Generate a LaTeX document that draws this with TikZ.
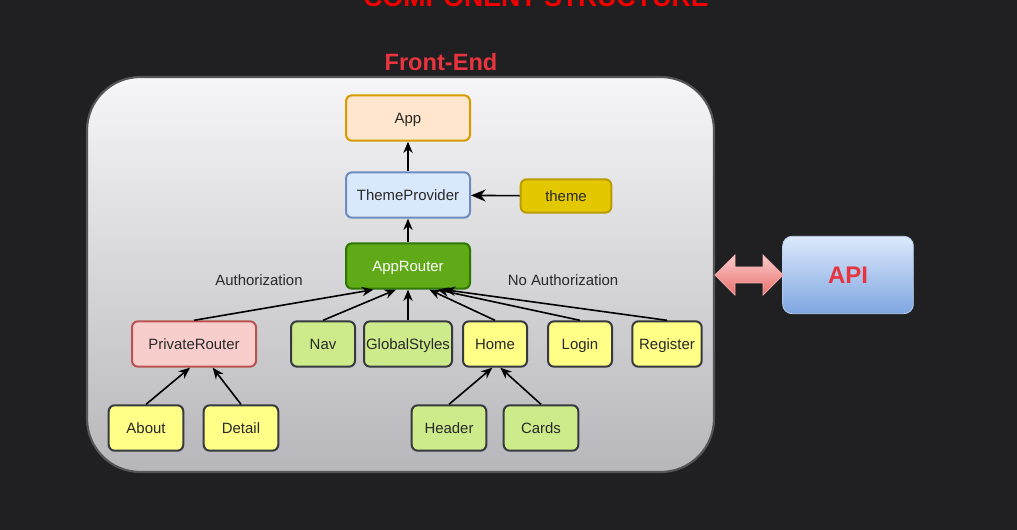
\documentclass[tikz,border=0pt]{standalone}
\usepackage{fontspec}
\setmainfont{Liberation Sans}
\usetikzlibrary{arrows.meta}

\definecolor{fondo}{RGB}{32,32,34}
\definecolor{titulo}{RGB}{240,0,0}
\definecolor{rojo}{RGB}{232,52,62}
\definecolor{texto}{RGB}{40,40,40}
\definecolor{borde}{RGB}{54,57,61}

\tikzset{
  box/.style={rectangle,rounded corners=4.5pt,draw=borde,line width=1.5pt,
    minimum height=34pt,text=texto,font=\fontsize{11.2}{13}\selectfont,inner sep=1pt,
    text height=10pt,text depth=1.4pt},
  appbox/.style={box,fill={rgb,255:red,255;green,230;blue,204},draw={rgb,255:red,215;green,155;blue,0},minimum width=93pt},
  providerbox/.style={box,fill={rgb,255:red,218;green,232;blue,252},draw={rgb,255:red,108;green,142;blue,191},minimum width=93pt},
  themebox/.style={box,fill={rgb,255:red,227;green,200;blue,0},draw={rgb,255:red,184;green,156;blue,0},minimum width=68pt,minimum height=25pt},
  routerbox/.style={box,fill={rgb,255:red,96;green,169;blue,23},draw={rgb,255:red,45;green,118;blue,0},minimum width=93pt,text=white},
  privbox/.style={box,fill={rgb,255:red,248;green,206;blue,204},draw={rgb,255:red,184;green,84;blue,80},minimum width=93pt},
  leafgreen/.style={box,fill={rgb,255:red,205;green,235;blue,139}},
  leafyellow/.style={box,fill={rgb,255:red,255;green,255;blue,136}},
  arr/.style={-{Stealth[length=8.5pt,width=7pt]},line width=1.2pt,black},
  etiqueta/.style={text=texto,font=\fontsize{11.2}{13}\selectfont}
}

\begin{document}
\begin{tikzpicture}[x=0.75pt,y=-0.75pt]
  \useasboundingbox (0,0) rectangle (1017,530);
  \fill[fondo] (0,0) rectangle (1017,530);

  % titulo, cortado arriba
  \node[anchor=base,text=titulo,font=\bfseries\fontsize{20}{24}\selectfont,inner sep=0pt] (title) at (536,7) {COMPONENT STRUCTURE};

  % contenedor del front-end
  \draw[line width=1.6pt,draw={rgb,255:red,85;green,85;blue,88},rounded corners=40pt,
    top color={rgb,255:red,246;green,246;blue,248},bottom color={rgb,255:red,183;green,182;blue,186}]
    (87,77) rectangle (714,472);
  \node[text=rojo,font=\bfseries\fontsize{17.7}{20}\selectfont] (fe) at (441,62) {Front-End};

  \node[appbox] (app) at (408,118) {App};
  \node[providerbox] (provider) at (408,195) {ThemeProvider};
  \node[themebox] (theme) at (566,196) {theme};
  \node[routerbox] (router) at (408,266) {AppRouter};

  \node[privbox] (priv) at (194,344) {PrivateRouter};
  \node[leafgreen,minimum width=48pt] (nav) at (323,344) {Nav};
  \node[leafgreen,minimum width=66pt] (gstyles) at (408,344) {GlobalStyles};
  \node[leafyellow,minimum width=48pt] (home) at (495,344) {Home};
  \node[leafyellow,minimum width=48pt] (login) at (580,344) {Login};
  \node[leafyellow,minimum width=52pt] (reg) at (667,344) {Register};

  \node[leafyellow,minimum width=56pt] (about) at (146,428) {About};
  \node[leafyellow,minimum width=56pt] (detail) at (241,428) {Detail};
  \node[leafgreen,minimum width=56pt] (header) at (449,428) {Header};
  \node[leafgreen,minimum width=56pt] (cards) at (541,428) {Cards};

  \node[etiqueta] (auth) at (259,280) {Authorization};
  \node[etiqueta] (noauth) at (563,280) {No Authorization};

  \draw[arr] (provider) -- (app);
  \draw[arr] (router) -- (provider);
  \draw[-{Stealth[length=11pt,width=9pt]},line width=1.2pt] (theme) -- (provider);

  \foreach \from/\dx in {priv/-26pt, nav/-9pt, gstyles/0pt, home/16pt, login/22pt, reg/27pt}
    \draw[arr] (\from.north) -- ([xshift=\dx]router.south);

  \foreach \from/\to/\dx in {about/priv/-3pt, detail/priv/14pt, header/home/-2pt, cards/home/4pt}
    \draw[arr] (\from.north) -- ([xshift=\dx]\to.south);

  % API y flecha doble
  \node[rectangle,rounded corners=7pt,minimum width=98pt,minimum height=58pt,
    draw={rgb,255:red,190;green,210;blue,240},line width=0.6pt,
    top color={rgb,255:red,220;green,233;blue,252},bottom color={rgb,255:red,126;green,166;blue,224},
    text=rojo,font=\bfseries\fontsize{18}{22}\selectfont] (api) at (848,275) {API};
  \draw[line width=0.6pt,draw={rgb,255:red,240;green,170;blue,170},
    top color={rgb,255:red,250;green,205;blue,205},bottom color={rgb,255:red,234;green,110;blue,106}]
    (715,275) -- (735,255) -- (735,267) -- (763,267) -- (763,255) -- (783,275)
    -- (763,295) -- (763,283) -- (735,283) -- (735,295) -- cycle;
\end{tikzpicture}
\end{document}
